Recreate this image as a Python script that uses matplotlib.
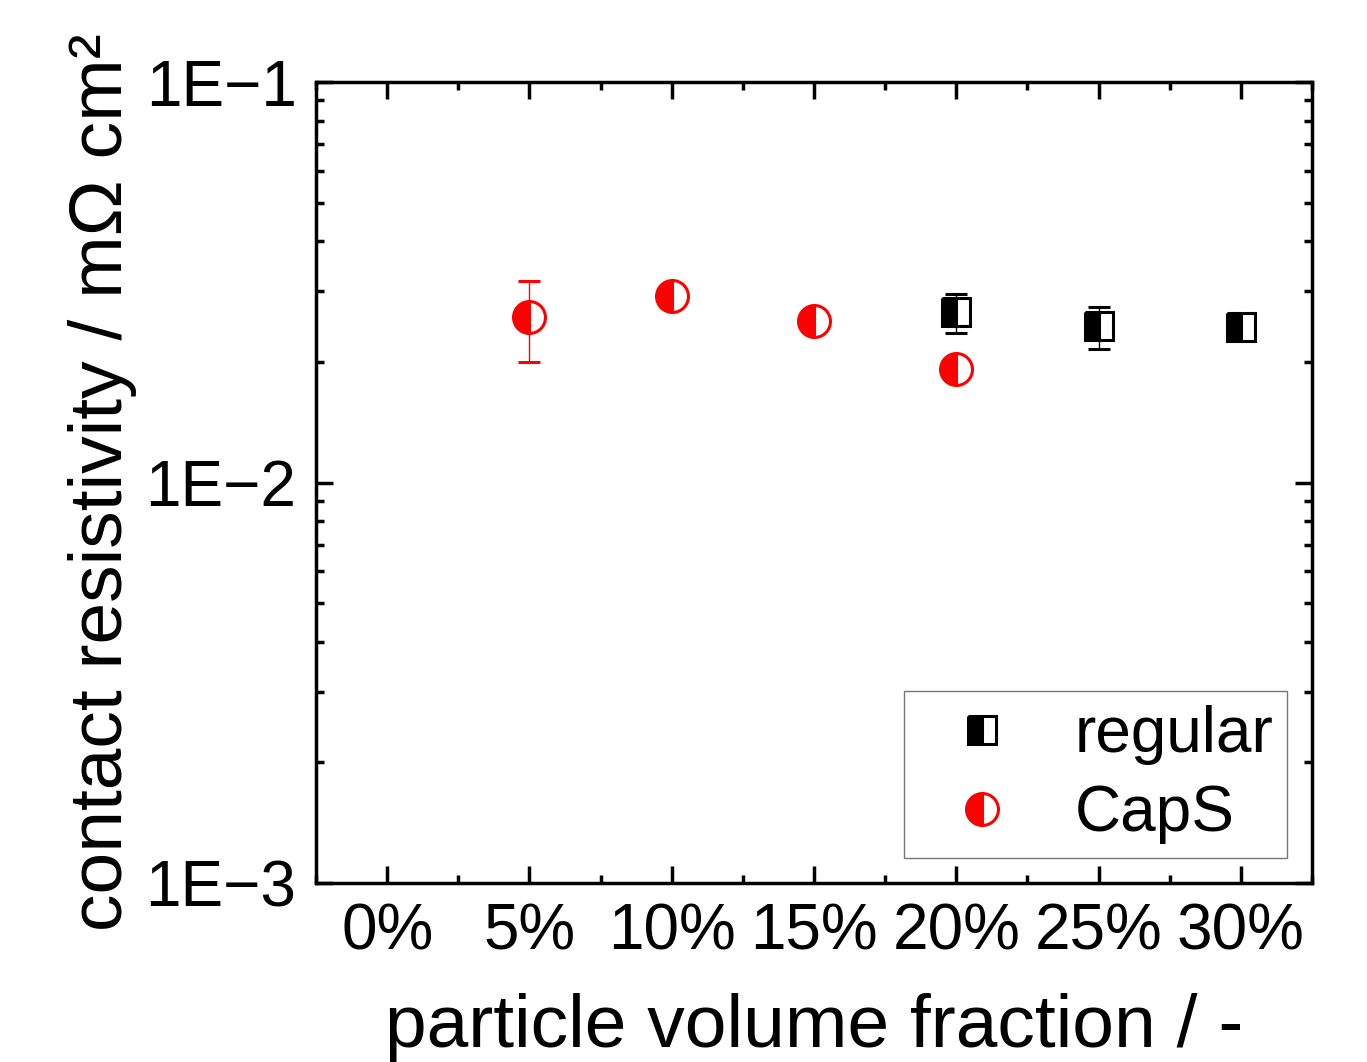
import numpy as np
import matplotlib.pyplot as plt
from matplotlib.lines import Line2D
from matplotlib.ticker import FixedLocator, LogLocator, NullFormatter, FuncFormatter

plt.rcParams['font.family'] = ['Liberation Sans', 'DejaVu Sans']

# data (x in %, resistivity in mOhm cm^2)
regular_x = [20, 25, 30]
regular_y = [0.0267, 0.0246, 0.0245]
regular_err_lo = [0.0031, 0.0031, 0.0008]
regular_err_hi = [0.0029, 0.0028, 0.0008]

caps_x = [5, 10, 15, 20]
caps_y = [0.0259, 0.0292, 0.0253, 0.0192]
caps_err_lo = [0.0059, 0.0015, 0.0008, 0.0008]
caps_err_hi = [0.0060, 0.0014, 0.0008, 0.0008]

xticks = [0, 5, 10, 15, 20, 25, 30]

fig = plt.figure(figsize=(13.67, 10.62), dpi=100)
ax = fig.add_axes([316 / 1367, 1 - 883 / 1062, (1312 - 316) / 1367, (883 - 82) / 1062])

sq = dict(marker='s', color='black', mew=2.2, fillstyle='left', markerfacecoloralt='white')
ci = dict(marker='o', color='red', mew=2.2, fillstyle='left', markerfacecoloralt='white')

ax.errorbar(regular_x, regular_y, yerr=[regular_err_lo, regular_err_hi], ls='none',
            ms=20, ecolor='black', elinewidth=1, capsize=8, capthick=1, zorder=3, **sq)
ax.errorbar(caps_x, caps_y, yerr=[caps_err_lo, caps_err_hi], ls='none',
            ms=23, ecolor='red', elinewidth=1, capsize=8, capthick=1, zorder=3, **ci)

ax.set_yscale('log')
ax.set_ylim(1e-3, 1e-1)
ax.set_xlim(-2.5, 32.5)

ax.xaxis.set_major_locator(FixedLocator(xticks))
ax.xaxis.set_minor_locator(FixedLocator(np.arange(-2.5, 33, 5)))
ax.xaxis.set_major_formatter(FuncFormatter(lambda v, p: f'{v:.0f}%'))
ax.yaxis.set_major_locator(LogLocator(base=10, numticks=10))
ax.yaxis.set_minor_locator(LogLocator(base=10, subs=np.arange(2, 10), numticks=20))
ax.yaxis.set_minor_formatter(NullFormatter())
ax.yaxis.set_major_formatter(FuncFormatter(lambda v, p: f'1E\u2212{-int(round(np.log10(v)))}'))

ax.tick_params(which='both', direction='in', top=True, right=True, width=2.5)
ax.tick_params(which='major', length=12, labelsize=46, pad=14)
ax.tick_params(which='minor', length=6)
for s in ax.spines.values():
    s.set_linewidth(2.5)

ax.set_xlabel('particle volume fraction / -', fontsize=54, labelpad=22)
ax.set_ylabel('contact resistivity / m\u03a9 cm\u00b2', fontsize=54, labelpad=6)

handles = [Line2D([], [], ls='none', ms=20, **sq), Line2D([], [], ls='none', ms=23, **ci)]
leg = ax.legend(handles, ['regular', 'CapS'], loc='lower right', fontsize=46,
                frameon=True, fancybox=False, edgecolor='#555555', handletextpad=0.45,
                borderpad=0.22, labelspacing=0.3, borderaxespad=0,
                bbox_to_anchor=(0.975, 0.031))
leg.get_frame().set_linewidth(1)

fig.savefig('out.png', dpi=100)
